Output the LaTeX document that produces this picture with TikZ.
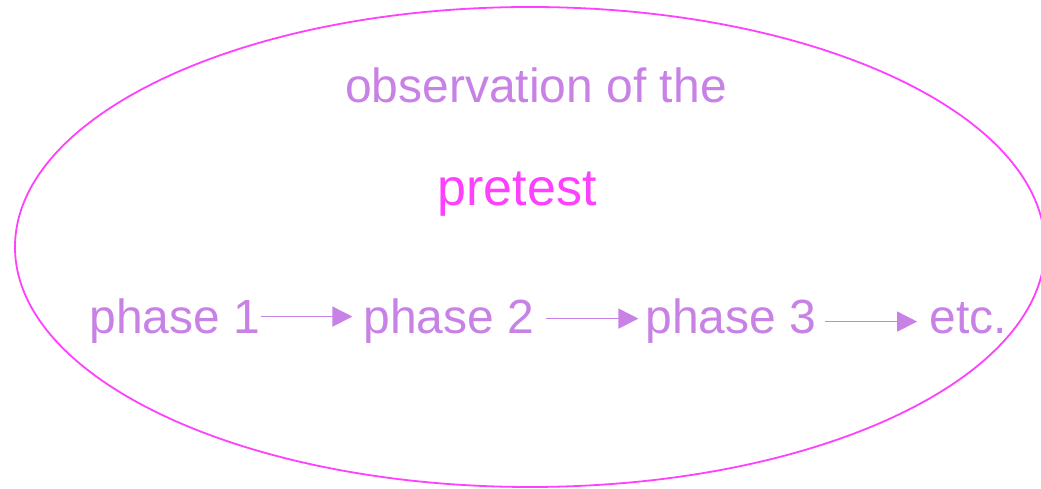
\documentclass[tikz,border=0pt]{standalone}
\usepackage{fontspec}
\setmainfont{Liberation Sans}
\usetikzlibrary{arrows.meta}
\definecolor{lav}{HTML}{C882E6}
\definecolor{pink}{HTML}{FF40FF}
\tikzset{
  txt/.style={anchor=base, inner sep=0pt, text=lav, font=\fontsize{48}{58}\selectfont},
  arr/.style={draw=lav, line width=1.5pt, -{Triangle[length=20pt, width=20pt]}}
}
\begin{document}
\begin{tikzpicture}[x=1pt,y=1pt]
  \useasboundingbox (0,0) rectangle (1041,489);
  \clip (0,0) rectangle (1041,489);

  \coordinate (O) at (530,242);
  \coordinate (A) at (536,386);
  \coordinate (B) at (517,283);
  \coordinate (P1) at (175,155);
  \coordinate (P2) at (449,155);
  \coordinate (P3) at (731,155);
  \coordinate (E) at (968,155);

  \draw[pink, line width=1.8pt] (O) ellipse (515 and 240);

  \node[txt] (obs) at (A) {observation of the};
  \node[txt, text=pink, font=\fontsize{52}{62}\selectfont] (pre) at (B) {pretest};
  \node[txt] (p1) at (P1) {phase 1};
  \node[txt] (p2) at (P2) {phase 2};
  \node[txt] (p3) at (P3) {phase 3};
  \node[txt] (etc) at (E) {etc.};

  \draw[arr] ([yshift=5]p1.east) -- ([xshift=-11,yshift=5]p2.west);
  \draw[arr] ([xshift=11,yshift=3]p2.east) -- ([xshift=-7,yshift=3]p3.west);
  \draw[arr, shorten <=8pt, shorten >=12pt] (p3.east) -- (p3.east -| etc.west);
\end{tikzpicture}
\end{document}
